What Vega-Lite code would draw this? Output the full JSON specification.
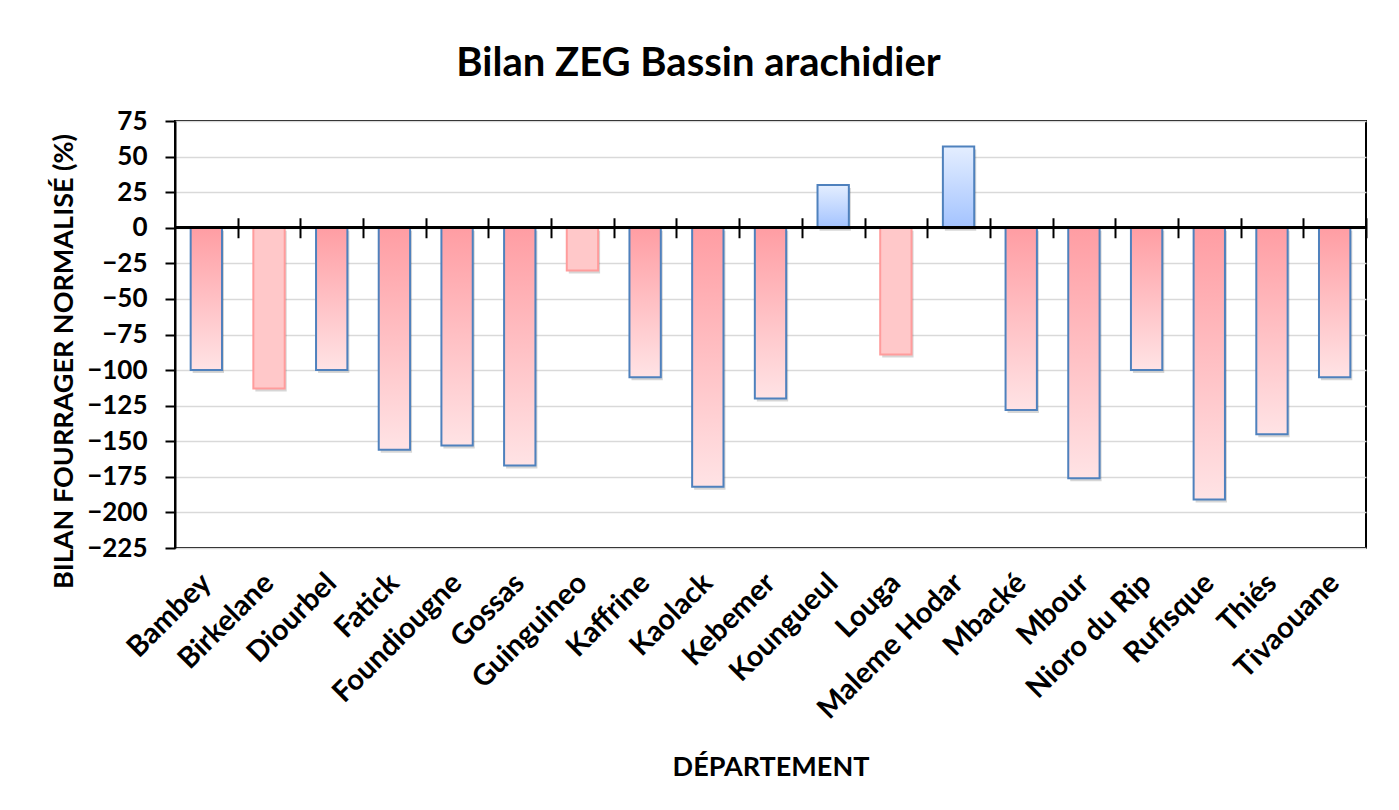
{
  "$schema": "https://vega.github.io/schema/vega-lite/v6.json",
  "width": 1191,
  "height": 427,
  "autosize": {"type": "none"},
  "padding": {"left": 175, "top": 121, "right": 33, "bottom": 262},
  "background": "white",
  "title": {
    "text": "Bilan ZEG Bassin arachidier",
    "font": "Lato",
    "fontSize": 40,
    "fontWeight": "bold",
    "color": "black",
    "anchor": "middle",
    "baseline": "alphabetic",
    "dx": -72,
    "offset": -8
  },
  "data": {
    "values": [
      {"dept": "Bambey", "bilan": -100, "grp": "a"},
      {"dept": "Birkelane", "bilan": -113, "grp": "b"},
      {"dept": "Diourbel", "bilan": -100, "grp": "a"},
      {"dept": "Fatick", "bilan": -156, "grp": "a"},
      {"dept": "Foundiougne", "bilan": -153, "grp": "a"},
      {"dept": "Gossas", "bilan": -167, "grp": "a"},
      {"dept": "Guinguineo", "bilan": -30, "grp": "b"},
      {"dept": "Kaffrine", "bilan": -105, "grp": "a"},
      {"dept": "Kaolack", "bilan": -182, "grp": "a"},
      {"dept": "Kebemer", "bilan": -120, "grp": "a"},
      {"dept": "Koungueul", "bilan": 30, "grp": "c"},
      {"dept": "Louga", "bilan": -89, "grp": "b"},
      {"dept": "Maleme Hodar", "bilan": 57, "grp": "c"},
      {"dept": "Mbacké", "bilan": -128, "grp": "a"},
      {"dept": "Mbour", "bilan": -176, "grp": "a"},
      {"dept": "Nioro du Rip", "bilan": -100, "grp": "a"},
      {"dept": "Rufisque", "bilan": -191, "grp": "a"},
      {"dept": "Thiés", "bilan": -145, "grp": "a"},
      {"dept": "Tivaouane", "bilan": -105, "grp": "a"}
    ]
  },
  "encoding": {
    "y": {
      "field": "bilan",
      "type": "quantitative",
      "scale": {"domain": [-225, 75], "nice": false, "zero": false},
      "axis": {
        "title": "BILAN FOURRAGER NORMALISÉ (%)",
        "values": [-225, -200, -175, -150, -125, -100, -75, -50, -25, 0, 25, 50, 75],
        "titleX": -111,
        "titleY": 240,
        "titleBaseline": "middle",
        "titleAlign": "center",
        "titleAngle": -90,
        "titleFontSize": 27
      }
    }
  },
  "layer": [
    {
      "mark": {"type": "bar", "fill": "black", "opacity": 0.16, "xOffset": 2, "yOffset": 3},
      "encoding": {
        "x": {
          "field": "dept",
          "type": "nominal",
          "sort": null,
          "scale": {"paddingInner": 0.5, "paddingOuter": 0.25},
          "axis": {
            "orient": "bottom",
            "title": "DÉPARTEMENT",
            "titleY": 227,
            "titleBaseline": "alphabetic",
            "titleFontSize": 27,
            "labelAngle": -45,
            "labelAlign": "right",
            "labelBaseline": "middle",
            "labelPadding": 30,
            "labelFontSize": 29,
            "labelLimit": 0,
            "ticks": false,
            "domain": false,
            "grid": false
          }
        }
      }
    },
    {
      "transform": [{"filter": "datum.grp == 'a'"}],
      "mark": {
        "type": "bar",
        "stroke": "#4F81BD",
        "strokeWidth": 2,
        "fill": {
          "gradient": "linear",
          "x1": 0, "y1": 0, "x2": 0, "y2": 1,
          "stops": [
            {"offset": 0, "color": "#FF9DA3"},
            {"offset": 1, "color": "#FFE3E5"}
          ]
        }
      },
      "encoding": {
        "x": {
          "field": "dept",
          "type": "nominal",
          "sort": null,
          "axis": {
            "orient": "top",
            "title": null,
            "labels": false,
            "domain": false,
            "grid": false,
            "ticks": true,
            "tickBand": "center",
            "tickOffset": 31.34,
            "tickSize": 20,
            "tickWidth": 2,
            "tickColor": "black",
            "offset": -116.75
          }
        }
      }
    },
    {
      "transform": [{"filter": "datum.grp == 'b'"}],
      "mark": {
        "type": "bar",
        "stroke": "#FF9C9C",
        "strokeWidth": 2,
        "fill": "#FFC8C9"
      },
      "encoding": {
        "x": {"field": "dept", "type": "nominal", "sort": null, "axis": null}
      }
    },
    {
      "transform": [{"filter": "datum.grp == 'c'"}],
      "mark": {
        "type": "bar",
        "stroke": "#4F81BD",
        "strokeWidth": 2,
        "fill": {
          "gradient": "linear",
          "x1": 0, "y1": 0, "x2": 0, "y2": 1,
          "stops": [
            {"offset": 0, "color": "#E4EEFF"},
            {"offset": 1, "color": "#A3C3FF"}
          ]
        }
      },
      "encoding": {
        "x": {"field": "dept", "type": "nominal", "sort": null, "axis": null}
      }
    },
    {
      "mark": {"type": "rule", "color": "black", "strokeWidth": 2},
      "encoding": {"y": {"datum": 0}}
    }
  ],
  "resolve": {"scale": {"x": "shared"}, "axis": {"x": "independent"}},
  "config": {
    "view": {"stroke": "black", "strokeWidth": 2},
    "axis": {
      "labelFont": "Lato",
      "labelFontWeight": "bold",
      "labelFontSize": 26,
      "labelColor": "black",
      "titleFont": "Lato",
      "titleFontWeight": "bold",
      "titleFontSize": 26,
      "titleColor": "black"
    },
    "axisY": {
      "grid": true,
      "gridColor": "#D9D9D9",
      "gridWidth": 1.5,
      "domainColor": "black",
      "domainWidth": 2,
      "tickColor": "black",
      "tickWidth": 2,
      "tickSize": 10,
      "labelPadding": 18
    }
  }
}
